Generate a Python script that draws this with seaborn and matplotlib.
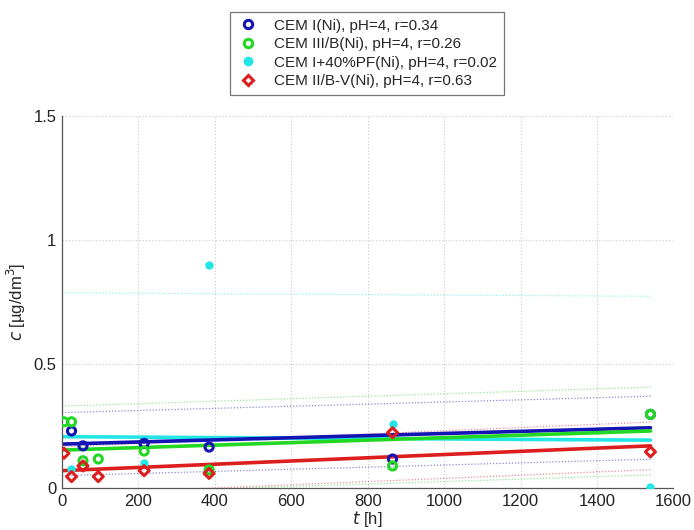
import numpy as np
import pandas as pd
import matplotlib
matplotlib.use("Agg")
import matplotlib.pyplot as plt
import seaborn as sns

# Series labels
labels = [
    "CEM I(Ni), pH=4, r=0.34",
    "CEM III/B(Ni), pH=4, r=0.26",
    "CEM I+40%PF(Ni), pH=4, r=0.02",
    "CEM II/B-V(Ni), pH=4, r=0.63",
]

# Measurement times [h] and concentrations [ug/dm3]
t_blue = [25, 55, 215, 385, 865, 1540]
c_blue = [0.23, 0.17, 0.18, 0.165, 0.117, 0.297]

t_green = [5, 25, 55, 95, 215, 385, 865, 1540]
c_green = [0.267, 0.267, 0.11, 0.117, 0.149, 0.073, 0.089, 0.297]

t_cyan = [23, 215, 385, 865, 1540]
c_cyan = [0.077, 0.10, 0.90, 0.26, 0.005]

t_red = [5, 25, 55, 95, 215, 385, 865, 1540]
c_red = [0.14, 0.046, 0.089, 0.046, 0.07, 0.059, 0.223, 0.146]

# Linear fits: intercept, slope per hour, and half-width of the prediction band
fit_intercept = [0.177, 0.153, 0.207, 0.070]
fit_slope = [0.243 - 0.177, 0.230 - 0.153, 0.193 - 0.207, 0.170 - 0.070]
fit_slope = [s / 1540 for s in fit_slope]
band_half = [0.127, 0.177, 0.58, 0.096]
fit_t = [0, 1540]

colors = ["#1414B4", "#22D822", "#22E6E6", "#DC1E1E"]
markers = ["o", "o", "o", "D"]

sns.set_style("white")
plt.rcParams["font.family"] = ["Liberation Sans", "DejaVu Sans"]

fig = plt.figure(figsize=(6.94, 5.30), dpi=100)
ax = fig.add_axes([0.0893, 0.0792, 0.881, 0.702])

# Prediction bands (thin dotted) and fitted lines (thick)
for i in range(4):
    tt = np.array(fit_t, dtype=float)
    yy = fit_intercept[i] + fit_slope[i] * tt
    for sign in (1, -1):
        sns.lineplot(x=tt, y=yy + sign * band_half[i], ax=ax,
                     color=colors[i], lw=0.9, ls=(0, (1, 1.5)), alpha=0.5, legend=False)

draw_order = [2, 0, 1, 3]
for i in draw_order:
    tt = np.array(fit_t, dtype=float)
    yy = fit_intercept[i] + fit_slope[i] * tt
    sns.lineplot(x=tt, y=yy, ax=ax, color=colors[i], lw=2.6, legend=False)

# Data points
series = [(t_blue, c_blue), (t_green, c_green), (t_cyan, c_cyan), (t_red, c_red)]
handles = []
for i in [0, 1, 2, 3]:
    t, c = series[i]
    if i == 2:
        sns.scatterplot(x=t, y=c, ax=ax, marker="o", s=36, color=colors[i],
                        edgecolor=colors[i], linewidth=0, zorder=5)
        h = plt.Line2D([], [], ls="", marker="o", ms=6, mfc=colors[i], mec=colors[i])
    else:
        sns.scatterplot(x=t, y=c, ax=ax, marker=markers[i], s=34 if i != 3 else 26,
                        facecolor="none", edgecolor=colors[i], linewidth=2.2, zorder=5)
        h = plt.Line2D([], [], ls="", marker=markers[i], ms=6 if i != 3 else 5,
                       mfc="none", mec=colors[i], mew=2.2)
    handles.append(h)

ax.set_xlim(0, 1600)
ax.set_ylim(0, 1.5)
ax.set_xticks(range(0, 1601, 200))
ax.set_yticks([0, 0.5, 1, 1.5])
ax.set_yticklabels(["0", "0.5", "1", "1.5"])
ax.grid(True, color="#c8c8c8", ls=(0, (1, 2)), lw=0.8)
ax.tick_params(direction="in", length=4, labelsize=12, colors="#333333",
               labelcolor="#222222", pad=4)
for s in ["top", "right"]:
    ax.spines[s].set_visible(False)
for s in ["left", "bottom"]:
    ax.spines[s].set_color("#555555")
    ax.spines[s].set_linewidth(0.9)

ax.set_xlabel(r"$\it{t}$ [h]", fontsize=12, labelpad=0)
ax.set_ylabel(r"$\it{c}$ [µg/dm$^3$]", fontsize=12, labelpad=4)

leg = ax.legend(handles, labels, loc="upper center", bbox_to_anchor=(0.499, 1.28),
                frameon=True, fancybox=False, fontsize=11, handletextpad=1.0,
                borderpad=0.45, labelspacing=0.3, handlelength=1.4,
                borderaxespad=0)
leg.get_frame().set_edgecolor("#555555")
leg.get_frame().set_linewidth(0.9)

fig.savefig("out.png", dpi=100, facecolor="white")
